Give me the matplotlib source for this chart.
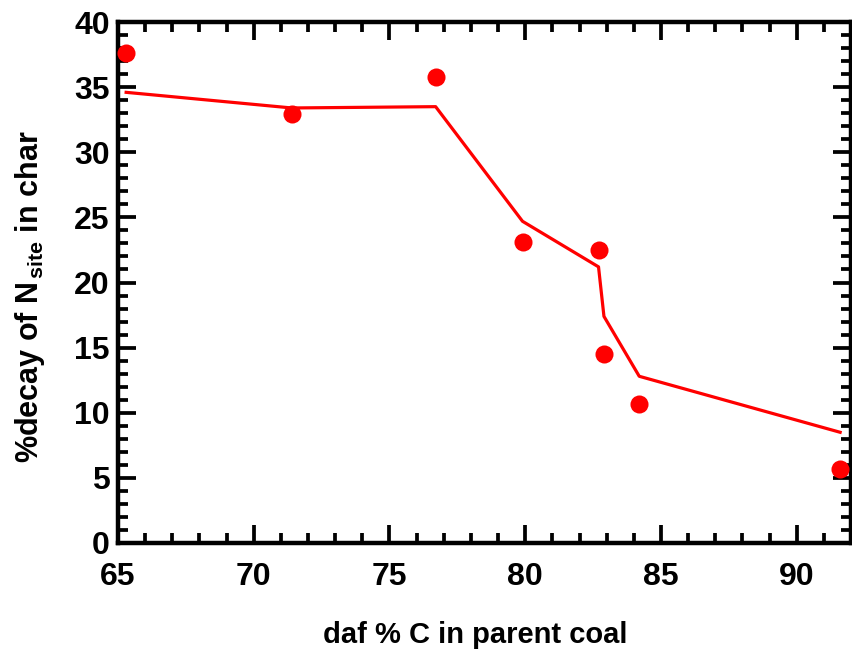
import matplotlib
matplotlib.use("Agg")
import matplotlib.pyplot as plt
from matplotlib.ticker import MultipleLocator

plt.rcParams['font.family'] = ['Liberation Sans', 'DejaVu Sans']
plt.rcParams['font.weight'] = 'bold'
plt.rcParams['mathtext.fontset'] = 'custom'
plt.rcParams['mathtext.rm'] = 'Liberation Sans:bold'
plt.rcParams['mathtext.bf'] = 'Liberation Sans:bold'
plt.rcParams['mathtext.it'] = 'Liberation Sans:bold'

# data
carbon = [65.3, 71.4, 76.7, 79.9, 82.7, 82.9, 84.2, 91.6]
decay = [37.6, 32.9, 35.8, 23.1, 22.5, 14.5, 10.7, 5.7]
fitted = [34.6, 33.4, 33.5, 24.7, 21.2, 17.4, 12.8, 8.5]
xticks = [65, 70, 75, 80, 85, 90]
yticks = [0, 5, 10, 15, 20, 25, 30, 35, 40]

fig = plt.figure(figsize=(8.52, 6.52), dpi=100)
ax = fig.add_axes([118/852, 109/652, (851-118)/852, (543-22)/652])

ax.plot(carbon, fitted, color='#ff0000', lw=2.3, zorder=3)
ax.plot(carbon, decay, 'o', color='#ff0000', ms=13, mec='none', zorder=4, clip_on=False)

ax.set_xlim(65, 92)
ax.set_ylim(0, 40)
ax.set_xticks(xticks)
ax.set_yticks(yticks)
ax.xaxis.set_minor_locator(MultipleLocator(1))
ax.yaxis.set_minor_locator(MultipleLocator(1))
ax.tick_params(which='both', direction='in', top=True, right=True, width=2.7, color='black')
ax.tick_params(which='major', length=13, labelsize=23, pad=6)
ax.tick_params(which='minor', length=7)
ax.tick_params(axis='x', which='major', pad=14)
for s in ax.spines.values():
    s.set_linewidth(3.2)
for lab in ax.get_xticklabels() + ax.get_yticklabels():
    lab.set_fontweight('bold')

fig.text(475/852, 1 - 635/652, 'daf % C in parent coal', ha='center', va='center',
         fontsize=21, fontweight='bold')
fig.text(30/852, 1 - 297/652, r'%decay of N$_{\,\mathrm{site}}$ in char', ha='center', va='center',
         rotation=90, fontsize=22, fontweight='bold')

fig.savefig('out.png', dpi=100)
